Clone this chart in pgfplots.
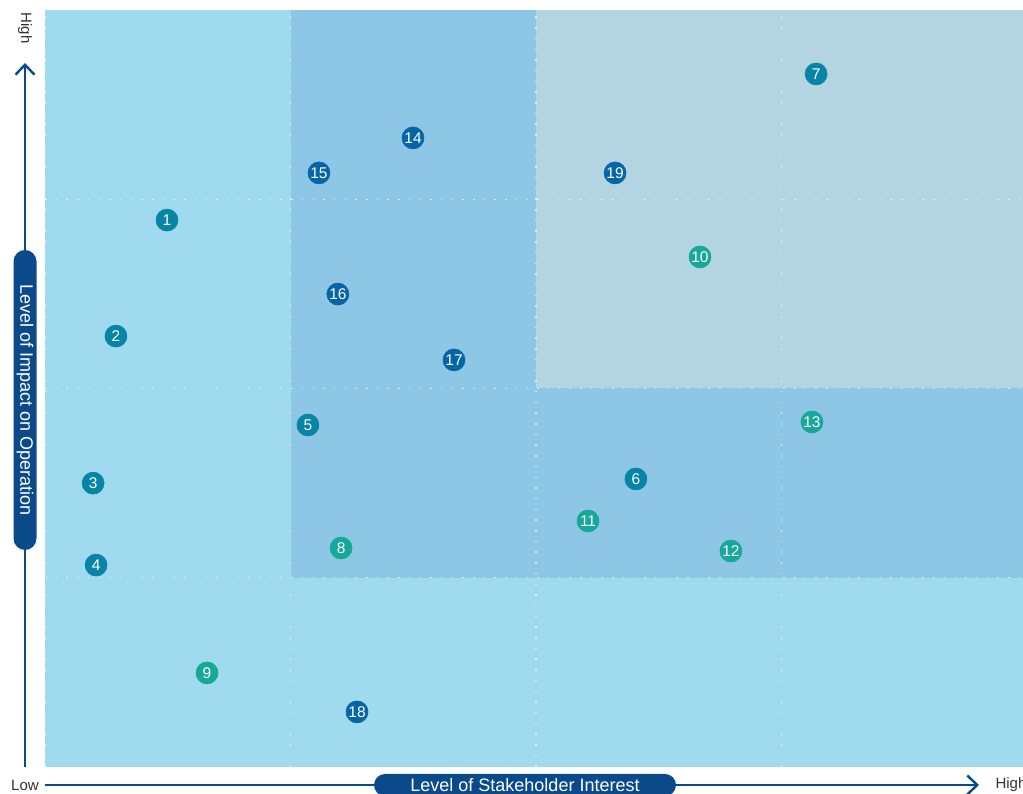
\documentclass[border=0pt]{standalone}
\usepackage{pgfplots}
\pgfplotsset{compat=1.18}
\usepackage{fontspec}
\setmainfont{Liberation Sans}
\usetikzlibrary{arrows.meta}
\definecolor{bglight}{RGB}{160,218,239}
\definecolor{bgmid}{RGB}{142,198,229}
\definecolor{bggray}{RGB}{179,212,225}
\definecolor{axisblue}{RGB}{10,74,138}
\definecolor{mdark}{RGB}{6,101,166}
\definecolor{mteal}{RGB}{8,133,166}
\definecolor{mgreen}{RGB}{23,168,154}
\tikzset{griddot/.style={white, opacity=0.65, line width=1.3pt, dash pattern=on 1.5pt off 9.2pt}}
\begin{document}
\begin{tikzpicture}[x=1pt,y=1pt]
\useasboundingbox (0,0) rectangle (1023,794);
\begin{axis}[at={(45pt,27pt)}, anchor=south west, scale only axis,
  width=982pt, height=757pt, xmin=0, xmax=4, ymin=0, ymax=4,
  hide axis, clip=false,
  point meta=explicit symbolic,
  nodes near coords,
  nodes near coords style={anchor=center, text=white, font=\fontsize{15.5}{15.5}\selectfont}]
\fill[bglight] (axis cs:0,0) rectangle (axis cs:4,4);
\fill[bgmid] (axis cs:1,1) rectangle (axis cs:2,4);
\fill[bgmid] (axis cs:2,1) rectangle (axis cs:4,2);
\fill[bggray] (axis cs:2,2) rectangle (axis cs:4,4);
\draw[griddot] (axis cs:0,0) -- (axis cs:0,4);
\draw[griddot] (axis cs:1,0) -- (axis cs:1,4);
\draw[griddot] (axis cs:2,0) -- (axis cs:2,4);
\draw[griddot] (axis cs:3,0) -- (axis cs:3,4);
\draw[griddot] (axis cs:0,1) -- (axis cs:4,1);
\draw[griddot] (axis cs:0,2) -- (axis cs:4,2);
\draw[griddot] (axis cs:0,3) -- (axis cs:4,3);
\addplot[color=mteal, only marks, mark=*, mark size=11pt, mark options={solid, draw=mteal, fill=mteal, line width=0.6pt}] table[meta=label] {
x y label
0.497 2.890 1
0.289 2.277 2
0.196 1.500 3
0.208 1.067 4
1.071 1.807 5
2.407 1.522 6
3.141 3.662 7
};
\addplot[color=mgreen, only marks, mark=*, mark size=11pt, mark options={solid, draw=mgreen, fill=mgreen, line width=0.6pt}] table[meta=label] {
x y label
1.206 1.157 8
0.660 0.497 9
2.668 2.695 10
2.212 1.300 11
2.794 1.141 12
3.124 1.823 13
};
\addplot[color=mdark, only marks, mark=*, mark size=11pt, mark options={solid, draw=mdark, fill=mdark, line width=0.6pt}] table[meta=label] {
x y label
1.499 3.324 14
1.116 3.139 15
1.193 2.499 16
1.666 2.151 17
1.271 0.291 18
2.322 3.139 19
};
\end{axis}
\draw[axisblue, line width=2.4pt, -{Straight Barb[length=10pt,width=19pt,line width=2.4pt]}] (25,27) -- (25,731);
\draw[axisblue, line width=2.4pt, -{Straight Barb[length=10pt,width=19pt,line width=2.4pt]}] (45,9) -- (979,9);
\node[fill=axisblue, rounded corners=11.5pt, minimum width=300pt, minimum height=23pt, inner sep=0pt, rotate=-90, text=white, font=\fontsize{18}{18}\selectfont] at (25,394) {Level of Impact on Operation};
\node[fill=axisblue, rounded corners=11pt, minimum width=302pt, minimum height=22pt, inner sep=0pt, text=white, font=\fontsize{18}{18}\selectfont] at (525,9) {Level of Stakeholder Interest};
\node[text=black!80, font=\fontsize{15}{15}\selectfont] at (25,9) {Low};
\node[anchor=west, text=black!80, font=\fontsize{15}{15}\selectfont] at (992,9) {High};
\node[rotate=-90, text=black!80, font=\fontsize{15}{15}\selectfont] at (25,766) {High};
\end{tikzpicture}
\end{document}
